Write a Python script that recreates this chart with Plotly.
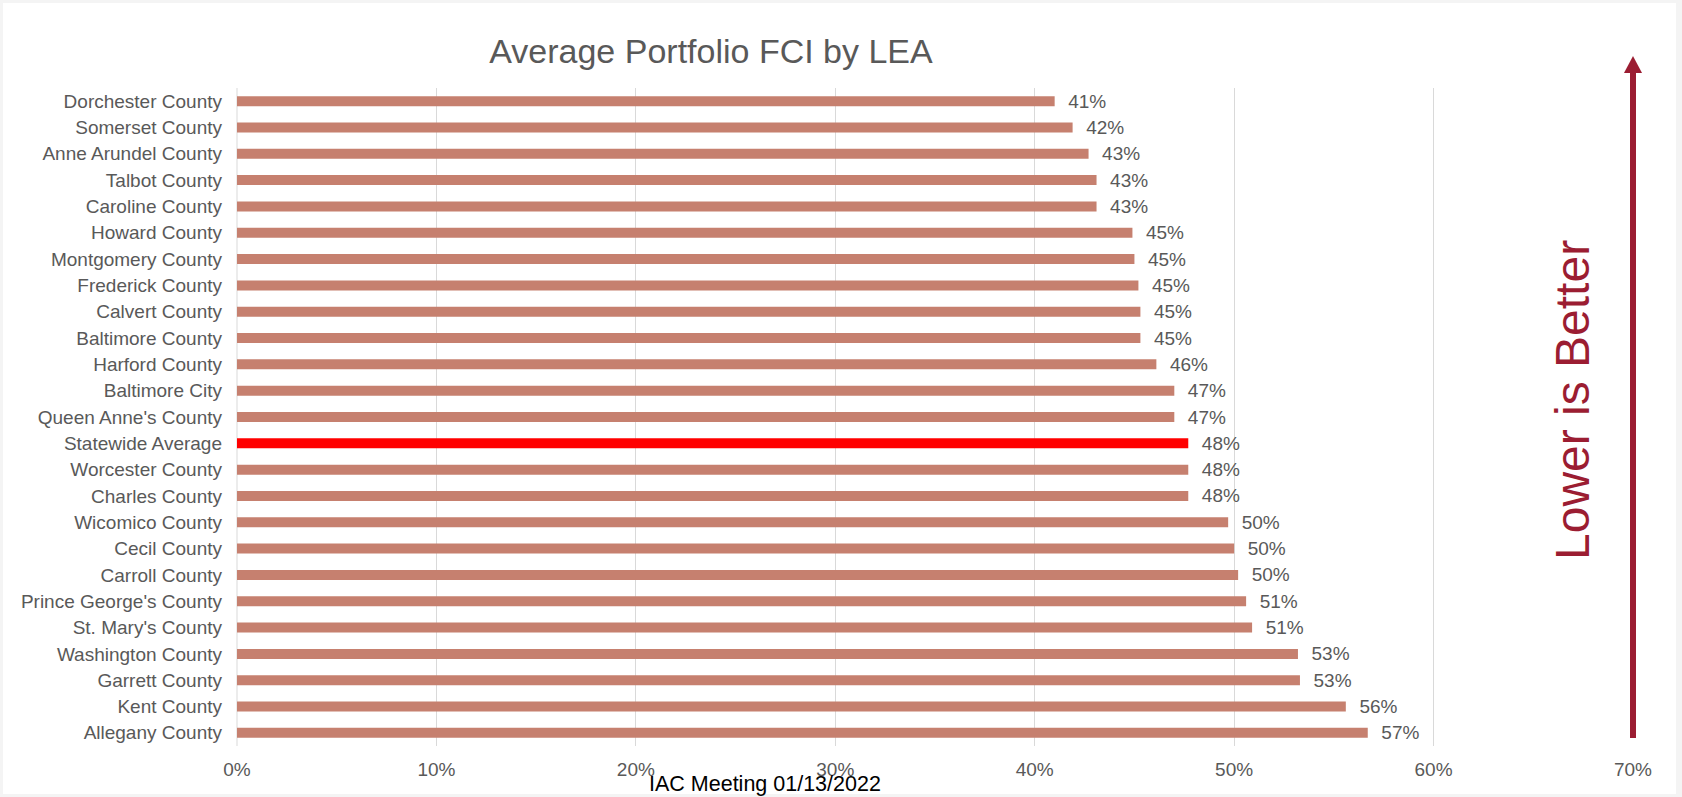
import plotly.graph_objects as go

# ---- data (top to bottom as displayed) ----
counties = [
    "Dorchester County", "Somerset County", "Anne Arundel County", "Talbot County",
    "Caroline County", "Howard County", "Montgomery County", "Frederick County",
    "Calvert County", "Baltimore County", "Harford County", "Baltimore City",
    "Queen Anne's County", "Statewide Average", "Worcester County", "Charles County",
    "Wicomico County", "Cecil County", "Carroll County", "Prince George's County",
    "St. Mary's County", "Washington County", "Garrett County", "Kent County",
    "Allegany County",
]
fci_pct = [
    41.0, 41.9, 42.7, 43.1, 43.1, 44.9, 45.0, 45.2, 45.3, 45.3, 46.1, 47.0,
    47.0, 47.7, 47.7, 47.7, 49.7, 50.0, 50.2, 50.6, 50.9, 53.2, 53.3, 55.6, 56.7,
]
x_ticks = [0, 0.1, 0.2, 0.3, 0.4, 0.5, 0.6, 0.7]

BAR = "#C6806F"
HILITE = "#FF0000"
DARKRED = "#9B1D32"
GREY = "#595959"
FONT = "Liberation Sans, Arial, sans-serif"

W, H = 1682, 797
L, R, T, B = 237, 49, 88, 51
PW, PH = W - L - R, H - T - B


def px_x(px):
    return (px - L) / PW


def px_y(py):
    return (H - B - py) / PH


fig = go.Figure()
fig.add_trace(go.Bar(
    y=counties,
    x=[v / 100 for v in fci_pct],
    orientation="h",
    marker=dict(color=[HILITE if c == "Statewide Average" else BAR for c in counties],
                line=dict(width=0)),
    texttemplate="  %{x:.0%}",
    textposition="outside",
    constraintext="none",
    textfont=dict(family=FONT, size=19, color=GREY),
    cliponaxis=False,
    hoverinfo="skip",
))

fig.update_layout(
    width=W, height=H,
    margin=dict(l=L, r=R, t=T, b=B),
    paper_bgcolor="#F4F4F4",
    plot_bgcolor="white",
    bargap=0.62,
    showlegend=False,
    uniformtext=dict(minsize=19, mode="show"),
    font=dict(family=FONT, color=GREY, size=19),
    title=dict(text="Average Portfolio FCI by LEA", x=px_x(711), xref="paper",
               xanchor="center", y=1 - 51.5 / H, yanchor="middle",
               font=dict(size=34, color=GREY)),
    xaxis=dict(range=[0, 0.7], tickvals=x_ticks, tickformat=".0%",
               showgrid=True, gridcolor="#D9D9D9", gridwidth=1,
               zeroline=False, showline=False, ticks="",
               ticklabelstandoff=10,
               tickfont=dict(size=19, color=GREY)),
    yaxis=dict(autorange="reversed", showgrid=False, zeroline=False,
               showline=False, ticks="", ticklabelstandoff=14,
               tickfont=dict(size=19, color=GREY)),
)

# white panel over the light grey page border
fig.add_shape(type="rect", xref="paper", yref="paper", layer="below",
              x0=px_x(3), x1=px_x(1676), y0=px_y(794), y1=px_y(3),
              fillcolor="white", line=dict(width=0))
# 0% axis line
fig.add_shape(type="line", xref="paper", yref="paper", x0=0, x1=0, y0=0, y1=1,
              line=dict(color="#D9D9D9", width=1), layer="below")

# "Lower is Better" arrow
fig.add_shape(type="line", xref="paper", yref="paper",
              x0=1.0, x1=1.0, y0=px_y(738), y1=px_y(72),
              line=dict(color=DARKRED, width=6))
hw = 9 / PW
fig.add_shape(type="path", xref="paper", yref="paper",
              path=f"M {1 - hw},{px_y(73)} L {1 + hw},{px_y(73)} L 1,{px_y(56)} Z",
              fillcolor=DARKRED, line=dict(width=0))

fig.add_annotation(text="Lower is Better", xref="paper", yref="paper",
                   x=px_x(1573), y=px_y(400), xanchor="center", yanchor="middle",
                   textangle=-90, showarrow=False,
                   font=dict(size=48, color=DARKRED, family=FONT))

fig.add_annotation(text="IAC Meeting 01/13/2022", xref="paper", yref="paper",
                   x=px_x(765), y=px_y(784), xanchor="center", yanchor="middle",
                   showarrow=False,
                   font=dict(size=21.5, color="black", family=FONT))

fig.write_html("out.html")
